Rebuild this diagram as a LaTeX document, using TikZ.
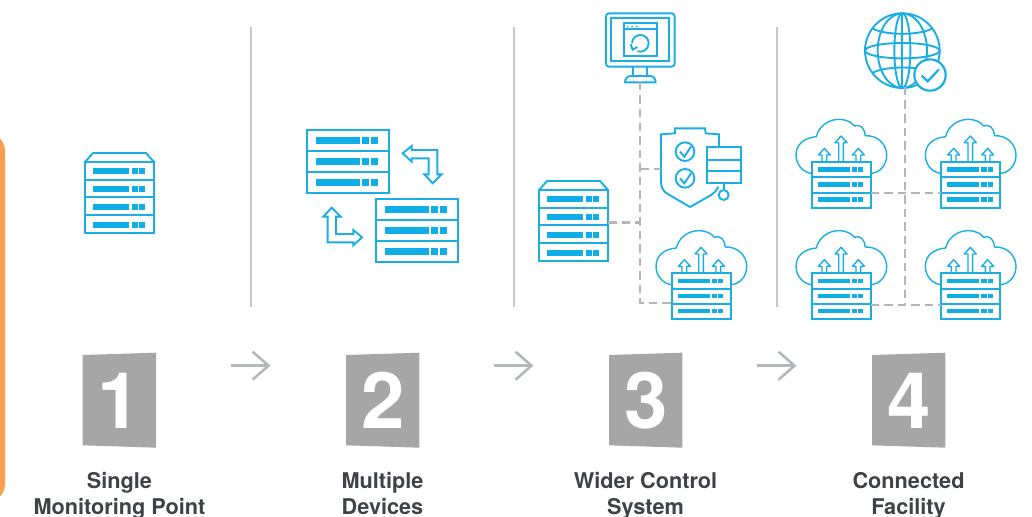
\documentclass[tikz,border=0pt]{standalone}
\usepackage{fontspec}
\setmainfont{TeX Gyre Heros}
\usetikzlibrary{arrows.meta}
\definecolor{iconblue}{HTML}{1AAEE5}
\definecolor{barblue}{HTML}{0FAEE6}
\definecolor{dashgray}{HTML}{B5B5B5}
\definecolor{sepgray}{HTML}{C8C8C8}
\definecolor{squaregray}{HTML}{A6A6A6}
\definecolor{arrowgray}{HTML}{B3B8BB}
\definecolor{textdark}{HTML}{3F4347}
\definecolor{barorange}{HTML}{FA9E4E}
\tikzset{
  zoomed/.style={x=0.33333pt,y=-0.33333pt},
  iconline/.style={draw=iconblue,line width=1.9pt,line join=miter},
  thinicon/.style={draw=iconblue,line width=1.4pt,line join=round},
  barfill/.style={fill=barblue,draw=none},
  bridge/.style={draw=dashgray,line width=2.7pt,dash pattern=on 8.5pt off 5pt},
  sepline/.style={draw=sepgray,line width=1.5pt},
  stepline/.style={draw=arrowgray,line width=2.6pt,-{Straight Barb[length=16pt,width=28pt,line width=2.6pt]}},
  digit/.style={text=white,font=\bfseries\fontsize{78}{78}\selectfont,inner sep=0pt},
  caption/.style={text=textdark,font=\bfseries\fontsize{21.7}{26}\selectfont,align=center,anchor=north,inner sep=0pt},
  ghost/.style={inner sep=0pt,outer sep=0pt,rectangle}
}
% rack with roof cap: #1 name, #2 x, #3 y of left / body top
\newcommand{\caprack}[3]{
  \node[ghost,minimum width=69pt,minimum height=71pt,anchor=north west] (#1) at (#2,#3) {};
  \begin{scope}[shift={(#2,#3)}]
    \draw[iconline] (0,0) rectangle (69,71);
    \draw[iconline] (0,0) -- (8,-9) -- (61,-9) -- (69,0);
    \foreach \r in {1,2,3} \draw[iconline] (0,{\r*17.7}) -- (69,{\r*17.7});
    \foreach \r in {0,1,2,3} {
      \fill[barfill] (8,{5.8+\r*17.9}) rectangle (44,{11.8+\r*17.9});
      \fill[barfill] (47,{5.8+\r*17.9}) rectangle (53,{11.8+\r*17.9});
      \fill[barfill] (54,{5.8+\r*17.9}) rectangle (60,{11.8+\r*17.9});
    }
  \end{scope}
}
% large three-row rack
\newcommand{\widerack}[3]{
  \node[ghost,minimum width=82pt,minimum height=63pt,anchor=north west] (#1) at (#2,#3) {};
  \begin{scope}[shift={(#2,#3)}]
    \draw[iconline] (0,0) rectangle (82,63);
    \draw[iconline] (0,21) -- (82,21);
    \draw[iconline] (0,42) -- (82,42);
    \foreach \r in {0,1,2} {
      \fill[barfill] (9,{6.5+\r*21}) rectangle (53,{13.5+\r*21});
      \fill[barfill] (55,{6.5+\r*21}) rectangle (62,{13.5+\r*21});
      \fill[barfill] (64,{6.5+\r*21}) rectangle (71,{13.5+\r*21});
    }
  \end{scope}
}
% cloud with rack: #1 name, #2 x, #3 y of rack top-left
\newcommand{\cloudrack}[3]{
  \node[ghost,minimum width=59pt,minimum height=46pt,anchor=north west] (#1) at (#2,#3) {};
  \begin{scope}[shift={(#2,#3)},zoomed]
    \draw[thinicon] (0,35) .. controls (-25,33) and (-47,10) .. (-47,-20)
      .. controls (-47,-50) and (-25,-72) .. (14,-75)
      .. controls (20,-105) and (50,-127) .. (80,-127)
      .. controls (105,-127) and (120,-118) .. (128,-107)
      .. controls (145,-115) and (160,-100) .. (160,-78)
      .. controls (200,-80) and (225,-50) .. (225,-20)
      .. controls (225,10) and (205,33) .. (178,35);
    \foreach \cx/\ty in {38/-40,88/-77,140/-40}
      \draw[thinicon,fill=white] ({\cx-7},0) -- ({\cx-7},{\ty+20}) -- ({\cx-18},{\ty+20}) -- (\cx,\ty) -- ({\cx+18},{\ty+20}) -- ({\cx+7},{\ty+20}) -- ({\cx+7},0);
    \draw[iconline,fill=white] (0,0) rectangle (178,138);
    \draw[iconline] (0,47) -- (178,47);
    \draw[iconline] (0,93) -- (178,93);
    \foreach \r in {0,1,2} {
      \fill[barfill] (19,{17+\r*45}) rectangle (115,{31+\r*45});
      \fill[barfill] (121,{17+\r*45}) rectangle (137,{31+\r*45});
      \fill[barfill] (140,{17+\r*45}) rectangle (155,{31+\r*45});
    }
  \end{scope}
}
\newcommand{\stepsquare}[3]{
  \fill[squaregray] (#2,355) -- ({#2+73.3},352.7) -- ({#2+73.3},447.7) -- (#2,445.3) -- cycle;
  \node[digit] (#1) at ({#2+36.7},400.5) {#3};
}
\begin{document}
\begin{tikzpicture}[x=1pt,y=-1pt]
\useasboundingbox (0,0) rectangle (1032,516);
\clip (0,0) rectangle (1032,516);

% orange bar
\fill[barorange,rounded corners=18pt] (-30,133) rectangle (5,502);

% separators
\coordinate (s1t) at (251,27); \coordinate (s1b) at (251,307);
\coordinate (s2t) at (514,27); \coordinate (s2b) at (514,307);
\coordinate (s3t) at (777,27); \coordinate (s3b) at (777,307);
\draw[sepline] (s1t) -- (s1b);
\draw[sepline] (s2t) -- (s2b);
\draw[sepline] (s3t) -- (s3b);

% step 1
\caprack{rackone}{85}{162}

% step 2
\widerack{racka}{307}{130}
\widerack{rackb}{376}{199}
\begin{scope}[shift={(290,120)},zoomed]
  \draw[iconline] (338,100) -- (365,78) -- (365,90) -- (442,90) -- (442,163) -- (455,163) -- (428,190) -- (403,163) -- (416,163) -- (416,115) -- (365,115) -- (365,125) -- cycle;
  \draw[iconline] (125,263) -- (152,290) -- (138,290) -- (138,342) -- (190,342) -- (190,330) -- (216,352) -- (190,376) -- (190,367) -- (113,367) -- (113,290) -- (100,290) -- cycle;
\end{scope}

% step 3
\caprack{rackthree}{539}{190}
\cloudrack{cloudc}{671.7}{273}
\node[ghost,minimum width=69pt,minimum height=69pt,anchor=north west] (monitor) at (606,13) {};
\begin{scope}[shift={(530,5)},zoomed]
  \draw[iconline,rounded corners=3pt] (228,25) rectangle (434,185);
  \draw[iconline] (242,40) rectangle (418,168);
  \draw[iconline] (282,54) rectangle (380,154);
  \draw[iconline] (282,73) -- (380,73);
  \foreach \dx in {293,306,320} \fill[iconblue] (\dx,65) circle (2.8);
  \draw[iconline] (306,115) arc[start angle=180,end angle=470,x radius=25,y radius=25];
  \draw[iconline] (302,118) -- (308,134) -- (322,126);
  \draw[iconline] (310,185) -- (310,213) (352,185) -- (352,213);
  \draw[iconline,line join=round] (285,232) .. controls (285,222) and (292,213) .. (302,213) -- (360,213) .. controls (370,213) and (377,222) .. (377,232) -- cycle;
\end{scope}
\node[ghost,minimum width=82pt,minimum height=79pt,anchor=north west] (shield) at (661,128) {};
\begin{scope}[shift={(530,5)},zoomed]
  \draw[iconline] (567,425) -- (567,388) -- (527,385) -- (525,370) -- (435,370) -- (435,385) -- (393,388) -- (393,530) .. controls (393,548) and (400,560) .. (415,568) -- (480,606) -- (540,572) .. controls (552,565) and (560,556) .. (565,545);
  \draw[iconline] (465,440) circle (28) (465,520) circle (28);
  \draw[iconline] (450,440) -- (463,455) -- (483,425);
  \draw[iconline] (450,520) -- (463,535) -- (483,505);
  \draw[iconline] (530,427) rectangle (634,533);
  \draw[iconline] (530,465) -- (634,465) (530,497) -- (634,497);
  \draw[iconline] (581,533) -- (581,555);
  \draw[iconline] (581,570) circle (15);
\end{scope}
\coordinate (trunkc) at (640,303);
\coordinate (joina) at (640,169);
\coordinate (joinb) at (640,222.7);
\coordinate (monout) at (640,82);
\coordinate (shieldin) at (661,169);
\coordinate (rackout) at (608,222.7);
\coordinate (cloudin) at (671.7,303);
\draw[bridge] (monout) -- (trunkc) -- (cloudin);
\draw[bridge] (joina) -- (shieldin);
\draw[bridge] (rackout) -- (joinb);

% step 4
\cloudrack{clouda}{811.7}{161.7}
\cloudrack{cloudb}{941}{161.7}
\cloudrack{cloudd}{811.7}{273}
\cloudrack{cloude}{941}{273}
\node[ghost,circle,minimum size=74pt] (globe) at (902.3,50.7) {};
\begin{scope}[shift={(785,5)},zoomed]
  \draw[draw=iconblue,line width=1.9pt] (352,137) circle (112);
  \draw[draw=iconblue,line width=1.9pt] (352,137) circle[x radius=74,y radius=112];
  \draw[draw=iconblue,line width=1.9pt] (352,137) circle[x radius=24,y radius=112];
  \draw[draw=iconblue,line width=1.9pt] (352,25) -- (352,249);
  \draw[draw=iconblue,line width=1.9pt] (352,137) circle[x radius=112,y radius=23];
  \draw[draw=iconblue,line width=1.9pt] (262,70) .. controls (300,92) and (404,92) .. (442,70);
  \draw[draw=iconblue,line width=1.9pt] (262,204) .. controls (300,182) and (404,182) .. (442,204);
  \draw[draw=iconblue,line width=2.2pt,fill=white] (435,210) circle (47);
  \draw[draw=iconblue,line width=2.2pt] (410,212) -- (428,229) -- (462,193);
\end{scope}
\coordinate (globeout) at (905,87);
\coordinate (trunkd) at (905,305);
\coordinate (hupl) at (870.7,193);
\coordinate (hupr) at (941,193);
\coordinate (hlowl) at (870.7,305);
\coordinate (hlowr) at (941,305);
\draw[bridge] (globeout) -- (trunkd);
\draw[bridge] (hupl) -- (hupr);
\draw[bridge] (hlowl) -- (hlowr);

% squares
\stepsquare{numa}{82.7}{1}
\stepsquare{numb}{346}{2}
\stepsquare{numc}{609}{3}
\stepsquare{numd}{872}{4}

% step arrows
\coordinate (a1s) at (230.7,365.7); \coordinate (a1e) at (270.5,365.7);
\coordinate (a2s) at (493.7,365.7); \coordinate (a2e) at (533.5,365.7);
\coordinate (a3s) at (756.7,365.7); \coordinate (a3e) at (796.5,365.7);
\draw[stepline] (a1s) -- (a1e);
\draw[stepline] (a2s) -- (a2e);
\draw[stepline] (a3s) -- (a3e);

% captions
\node[caption] (capa) at (119.5,472) {Single\\Monitoring Point};
\node[caption] (capb) at (382.5,472) {Multiple\\Devices};
\node[caption] (capc) at (645.5,472) {Wider Control\\System};
\node[caption] (capd) at (908.5,472) {Connected\\Facility};
\end{tikzpicture}
\end{document}
